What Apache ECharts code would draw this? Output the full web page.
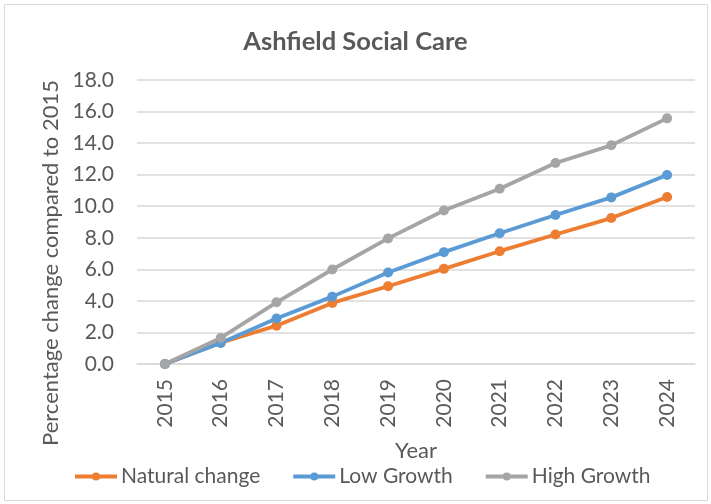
<!DOCTYPE html>
<html><head><meta charset="utf-8">
<script src="https://cdn.jsdelivr.net/npm/echarts@6/dist/echarts.min.js"></script>
<style>html,body{margin:0;padding:0;background:#fff}#c{width:711px;height:504px}</style>
</head><body><div id="c"></div>
<script>
const years = ['2015','2016','2017','2018','2019','2020','2021','2022','2023','2024'];
const naturalChange = [0, 1.35, 2.43, 3.87, 4.93, 6.03, 7.15, 8.21, 9.25, 10.58];
const lowGrowth = [0, 1.33, 2.88, 4.27, 5.80, 7.09, 8.29, 9.44, 10.56, 11.98];
const highGrowth = [0, 1.65, 3.91, 5.99, 7.96, 9.73, 11.11, 12.74, 13.86, 15.57];
const yTicks = [0, 2, 4, 6, 8, 10, 12, 14, 16, 18];

const FONT = 'Lato';
const TXT = '#595959';
const chart = echarts.init(document.getElementById('c'), null, {renderer:'canvas'});
const mk = (name, data, color) => ({
  name, type:'line', data, symbol:'circle', symbolSize:10,
  lineStyle:{color, width:3.8}, itemStyle:{color}, animation:false
});
chart.setOption({
  animation:false,
  title:{text:'Ashfield Social Care', left:'center', top:24,
    textStyle:{fontFamily:FONT, fontSize:25.5, fontWeight:'bold', color:TXT}},
  graphic:[{type:'rect', shape:{x:4.5,y:4.5,width:703,height:496},
    style:{fill:null, stroke:'#d9d9d9', lineWidth:1}}],
  grid:{left:137, right:16, top:80, bottom:140},
  legend:{top:466, left:73, padding:0, itemWidth:42, itemHeight:10, itemGap:31,
    lineStyle:{width:4},
    textStyle:{fontFamily:FONT, fontSize:21, color:TXT, padding:[0,0,0,-1]},
    data:['Natural change','Low Growth','High Growth']},
  xAxis:{type:'category', data:years, boundaryGap:true,
    name:'Year', nameLocation:'middle', nameGap:76,
    nameTextStyle:{fontFamily:FONT, fontSize:22, color:TXT},
    axisLine:{lineStyle:{color:'#d9d9d9', width:1.5}},
    axisTick:{show:false},
    axisLabel:{rotate:90, fontFamily:FONT, fontSize:21, color:TXT, margin:15}},
  yAxis:{type:'value', min:0, max:18, interval:2,
    name:'Percentage change compared to 2015', nameLocation:'middle', nameGap:69, nameRotate:90,
    nameTextStyle:{fontFamily:FONT, fontSize:22, color:TXT, padding:[0,82,0,0]},
    axisLine:{show:false}, axisTick:{show:false},
    splitLine:{lineStyle:{color:'#d9d9d9', width:1.5}},
    axisLabel:{fontFamily:FONT, fontSize:21, color:TXT, margin:23,
      formatter:v => yTicks.includes(v) ? v.toFixed(1) : ''}},
  series:[
    mk('Natural change', naturalChange, '#ED7D31'),
    mk('Low Growth', lowGrowth, '#5B9BD5'),
    mk('High Growth', highGrowth, '#A5A5A5')
  ]
});
</script></body></html>
